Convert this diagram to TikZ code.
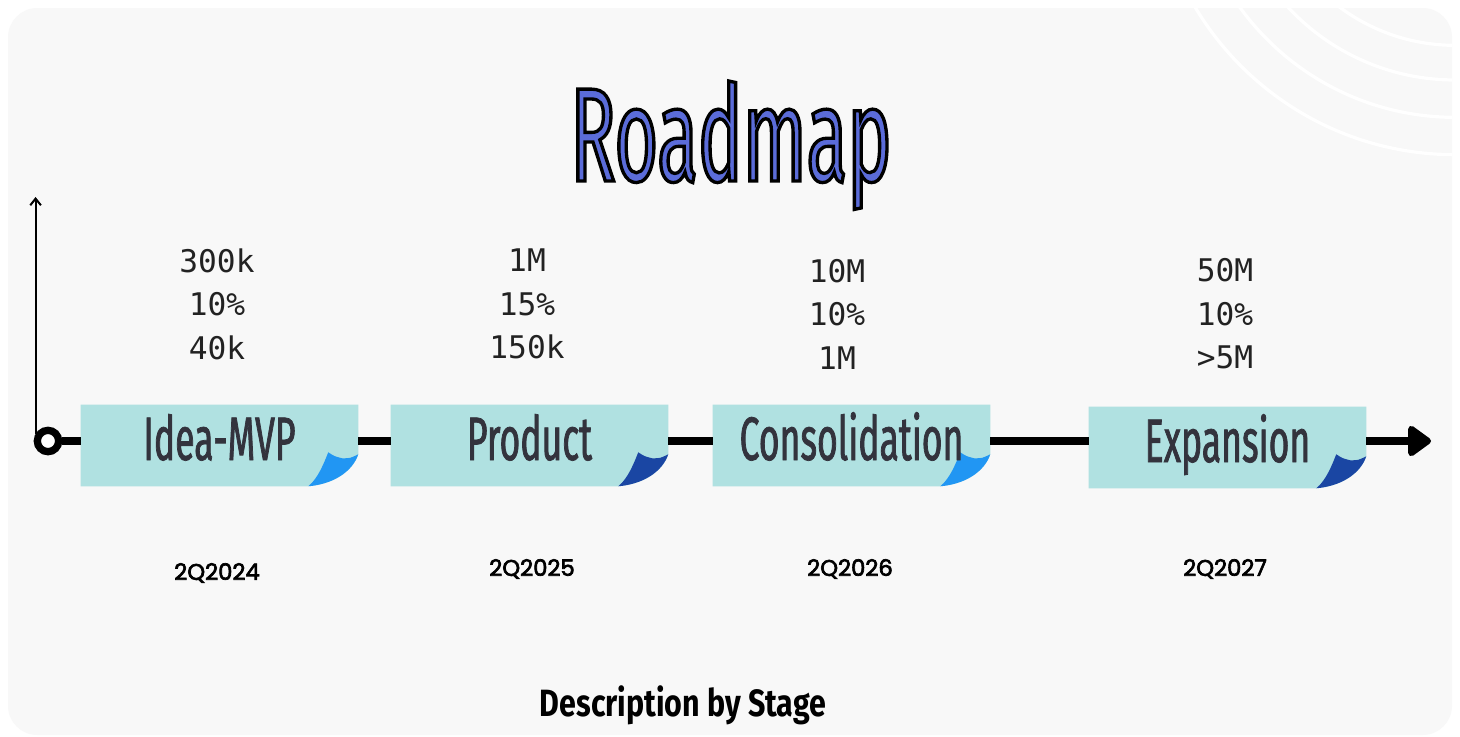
\documentclass[tikz,border=0pt]{standalone}
\usepackage{fontspec}
\usetikzlibrary{arrows.meta,calc}
\setmainfont{Fira Sans}
\newfontfamily\titlefont{Fira Sans}[FakeStretch=0.56,FakeBold=2.5]
\newfontfamily\stagefont{Fira Sans}[FakeStretch=0.58,FakeBold=1.2]
\newfontfamily\valfont{DejaVu Sans Mono}
\newfontfamily\datefont{Poppins}[FakeBold=3]
\newfontfamily\footfont{Fira Sans}[FakeStretch=0.8]
\definecolor{pagebg}{HTML}{F8F8F8}
\definecolor{tapefill}{HTML}{B0E1E1}
\definecolor{curllight}{HTML}{2196F3}
\definecolor{curldark}{HTML}{1A46A3}
\definecolor{labelink}{HTML}{33333D}
\definecolor{valink}{HTML}{222222}
\pgfdeclarelayer{back}\pgfdeclarelayer{mid}
\pgfsetlayers{back,mid,main}

% blue letters with a black stroke round them
\newcommand\outlined[1]{\special{pdf:bcolor [0.357 0.424 0.851] [0 0 0]}#1\special{pdf:ecolor}}

% tape label with a peeled bottom-right corner
\newcommand\tapeshape[2]{%
  \fill[tapefill] (#1.north west) -- (#1.north east)
    -- ([shift={(0,-32)}]#1.south east)
    .. controls ([shift={(-6,-14)}]#1.south east) and ([shift={(-26,-2)}]#1.south east) .. ([shift={(-50,0)}]#1.south east)
    -- (#1.south west) -- cycle;
  \fill[#2] ([shift={(0,-32)}]#1.south east)
    .. controls ([shift={(-6,-14)}]#1.south east) and ([shift={(-26,-2)}]#1.south east) .. ([shift={(-50,0)}]#1.south east)
    .. controls ([shift={(-40,-8)}]#1.south east) and ([shift={(-34,-24)}]#1.south east) .. ([shift={(-30,-34)}]#1.south east)
    .. controls ([shift={(-24,-30)}]#1.south east) .. ([shift={(-16,-28)}]#1.south east)
    .. controls ([shift={(-8,-28)}]#1.south east) .. ([shift={(0,-32)}]#1.south east) -- cycle;}

\begin{document}
\begin{tikzpicture}[x=0.75pt,y=-0.75pt,
  tape/.style={minimum width=207.75pt,minimum height=60.75pt,inner sep=0pt,
    text height=21.75pt,text depth=0pt,text=labelink,
    font=\stagefont\fontsize{46}{50}\selectfont},
  val/.style={align=center,text=valink,inner sep=0pt,
    font=\valfont\fontsize{23.4}{32.6}\selectfont},
  datelbl/.style={text=black,inner sep=0pt,font=\datefont\fontsize{17}{20}\selectfont},
  titletext/.style={anchor=base,inner sep=0pt,font=\titlefont\fontsize{100}{110}\selectfont},
  track/.style={line width=5.5pt,black},
  axis/.style={line width=1.5pt,black,-{Straight Barb[length=5pt,width=8pt]}},
  ring/.style={circle,draw=black,line width=5.5pt,fill=white,minimum size=16pt,inner sep=0pt}]

\useasboundingbox (0,0) rectangle (1460,736);

\begin{pgfonlayer}{back}
  \fill[white] (0,0) rectangle (1460,736);
  \fill[pagebg,rounded corners=22pt] (8,8) rectangle (1452,735);
  \begin{scope}
    \clip[rounded corners=22pt] (8,8) rectangle (1452,735);
    \foreach \r in {145,171,199,227}
      \draw[white,line width=2.4pt] (1455,-148) circle[radius=\r pt];
  \end{scope}
\end{pgfonlayer}

% title
\node[titletext] (title) at (731,181) {\outlined{Roadmap}};

% stages
\node[tape] (s1) at (219.5,445.5) {Idea-MVP};
\node[tape] (s2) at (529.5,445.5) {Product};
\node[tape] (s3) at (851.5,445.5) {Consolidation};
\node[tape] (s4) at (1227.5,447.5) {Expansion};
\begin{pgfonlayer}{mid}
  \tapeshape{s1}{curllight}
  \tapeshape{s2}{curldark}
  \tapeshape{s3}{curllight}
  \tapeshape{s4}{curldark}
\end{pgfonlayer}

% axes and timeline
\node[ring] (o) at (48,441) {};
\coordinate (ytop) at (39,197);
\coordinate (xend) at (1431,441);
\draw[axis] (o.150) -- (o.150 |- ytop);
\draw[track] (o.east) -- (s1.west |- o);
\draw[track] (s1.east |- o) -- (s2.west |- o);
\draw[track] (s2.east |- o) -- (s3.west |- o);
\draw[track] (s3.east |- o) -- (s4.west |- o);
\draw[track,-{Triangle[length=19pt,width=26pt,round]}] (s4.east |- o) -- (xend);

% figures per stage
\node[val] (v1) at (217,304) {300k\\10\%\\40k};
\node[val] (v2) at (527,304) {1M\\15\%\\150k};
\node[val] (v3) at (837,314) {10M\\10\%\\1M};
\node[val] (v4) at (1225,314) {50M\\10\%\\>5M};

% dates
\node[datelbl] (d1) at (217,573) {2Q2024};
\node[datelbl] (d2) at (532,569) {2Q2025};
\node[datelbl] (d3) at (850,569) {2Q2026};
\node[datelbl] (d4) at (1225,569) {2Q2027};

\node[anchor=base,inner sep=0pt,font=\footfont\bfseries\fontsize{28.5}{31}\selectfont] (cap) at (683,716) {Description by Stage};
\end{tikzpicture}
\end{document}
